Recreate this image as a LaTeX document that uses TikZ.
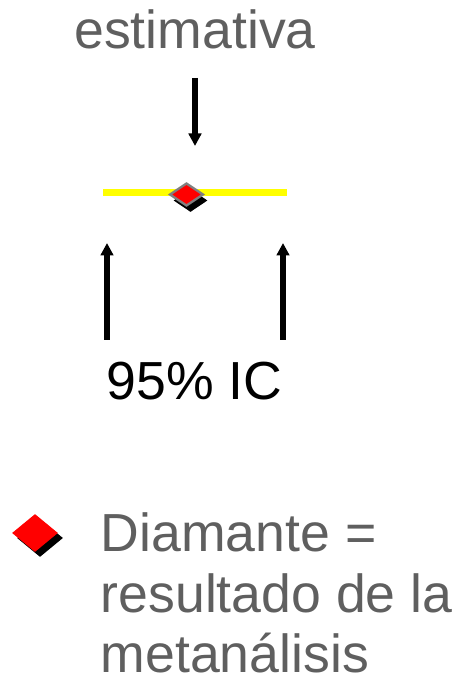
\documentclass[tikz,border=0pt]{standalone}
\usepackage{fontspec}
\setmainfont{Liberation Sans}
\usetikzlibrary{arrows.meta,positioning,shapes.geometric}

\definecolor{txtgrey}{RGB}{95,95,95}
\definecolor{ciyellow}{RGB}{255,255,0}
\definecolor{markred}{RGB}{255,0,0}
\definecolor{markedge}{RGB}{128,128,128}

\tikzset{
    bigtext/.style={font=\fontsize{30.5}{34}\selectfont, inner sep=0pt},
    pointer/.style={line width=0.11cm, -{Triangle[length=0.25cm, width=0.25cm]}},
    mark/.style={diamond, inner sep=0pt, minimum width=#1}
}

\begin{document}
\begin{tikzpicture}
            \useasboundingbox (0,0) rectangle (9.14,13.62);

            % Point estimate label and its arrow
            \node[bigtext, text=txtgrey, anchor=base] (est) at (3.9,12.64) {estimativa};
            \coordinate (esttop) at (3.9,12.06);
            \coordinate (esttip) at (3.9,10.70);
            \draw[pointer] (esttop) -- (esttip);

            % Confidence interval line
            \coordinate (cileft) at (2.06,9.76);
            \coordinate (ciright) at (5.74,9.76);
            \draw[ciyellow, line width=0.14cm] (cileft) -- (ciright);

            % Diamond on the line (shadow first)
            \node[mark=0.68cm, minimum height=0.46cm, fill=black] (dshadow) at (3.81,9.61) {};
            \node[mark=0.68cm, minimum height=0.46cm, fill=markred, draw=markedge, line width=1.3pt] (dmark) at (3.73,9.73) {};

            % Arrows pointing at both ends of the interval
            \coordinate (lowleft) at (2.14,6.82);
            \coordinate (tipleft) at (2.14,8.76);
            \coordinate (lowright) at (5.66,6.82);
            \coordinate (tipright) at (5.66,8.76);
            \draw[pointer] (lowleft) -- (tipleft);
            \draw[pointer] (lowright) -- (tipright);
            \node[bigtext, anchor=base] (ci) at (3.89,5.62) {95\% IC};

            % Legend
            \node[mark=0.92cm, minimum height=0.76cm, fill=black] (lshadow) at (0.80,2.86) {};
            \node[mark=0.92cm, minimum height=0.76cm, fill=markred] (lmark) at (0.70,2.96) {};
            \node[bigtext, text=txtgrey, anchor=base west] (leg1) at (2.01,2.58) {Diamante =};
            \node[bigtext, text=txtgrey, anchor=base west] (leg2) at (2.01,1.36) {resultado de la};
            \node[bigtext, text=txtgrey, anchor=base west] (leg3) at (2.01,0.18) {metanálisis};
\end{tikzpicture}
\end{document}
